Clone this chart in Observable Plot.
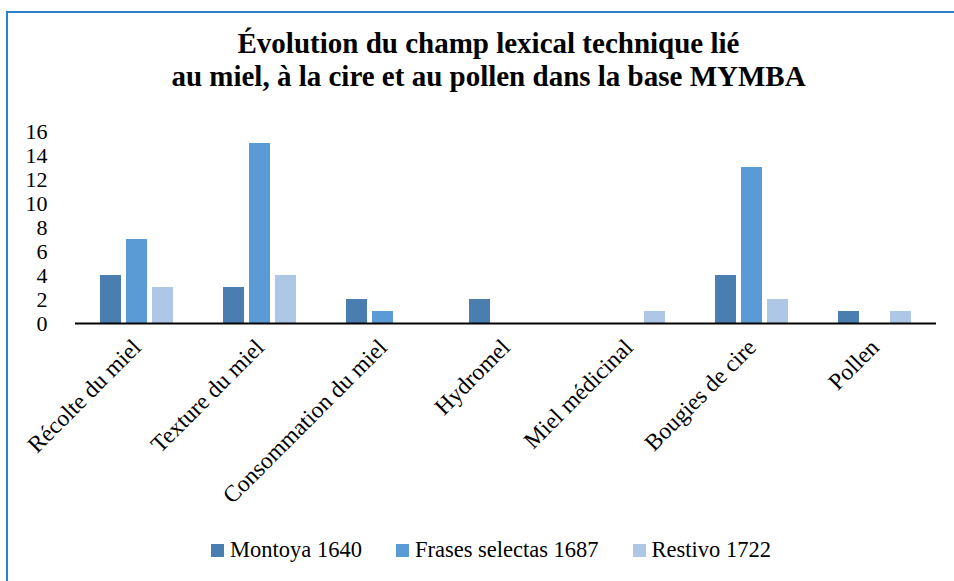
<!DOCTYPE html>
<html><head><meta charset="utf-8">
<script src="https://cdn.jsdelivr.net/npm/d3@7"></script>
<script src="https://cdn.jsdelivr.net/npm/@observablehq/plot@0.6"></script>
<style>
body{margin:0;background:#fff;}
#wrap{position:relative;width:954px;height:581px;overflow:hidden;font-family:"Liberation Serif","DejaVu Serif",serif;color:#000;}
#frame{position:absolute;left:6px;top:11px;width:1000px;height:620px;border:2.5px solid #2e80c8;box-sizing:border-box;}
#title{position:absolute;left:0;width:977px;top:27px;text-align:center;font-family:"Liberation Serif","DejaVu Serif",serif;font-weight:700;font-size:29px;line-height:33px;}
#chart{position:absolute;left:0;top:96px;}
#legend{position:absolute;top:537px;left:0;width:982px;display:flex;justify-content:center;gap:34px;font-size:22.5px;line-height:26px;}
#legend .item{display:flex;align-items:center;}
#legend .sw{width:13px;height:13px;margin-right:6px;}
</style></head>
<body>
<div id="wrap">
  <div id="frame"></div>
  <div id="title">Évolution du champ lexical technique lié<br>au miel, à la cire et au pollen dans la base MYMBA</div>
  <div id="chart"></div>
  <div id="legend"></div>
</div>
<script>
const categories = ["Récolte du miel","Texture du miel","Consommation du miel","Hydromel","Miel médicinal","Bougies de cire","Pollen"];
const series = ["Montoya 1640","Frases selectas 1687","Restivo 1722"];
const montoya = [4,3,2,2,0,4,1];
const frases = [7,15,1,0,0,13,0];
const restivo = [3,4,0,0,1,2,1];
const yTicks = [0,2,4,6,8,10,12,14,16];
const colors = ["#4a7eb0","#5b9bd5","#aec7e7"];

const valuesBySeries = [montoya, frases, restivo];
const data = [];
categories.forEach((c, i) => {
  series.forEach((s, j) => data.push({category: c, series: s, value: valuesBySeries[j][i]}));
});

const chart = Plot.plot({
  width: 954, height: 434,
  marginTop: 35, marginBottom: 207, marginLeft: 72, marginRight: 16,
  style: {fontFamily: "Liberation Serif", fontSize: "22px", color: "#000", background: "transparent", overflow: "visible"},
  fx: {domain: categories, paddingInner: 0, paddingOuter: 0, label: null},
  x: {domain: series, paddingInner: 0.2, paddingOuter: 0.9, axis: null},
  y: {domain: [0, 16], label: null},
  color: {domain: series, range: colors},
  marks: [
    Plot.axisY({ticks: yTicks, tickSize: 0, tickPadding: 25, dx: -3, label: null}),
    Plot.axisFx({anchor: "bottom", tickRotate: -45, tickSize: 0, tickPadding: 20, fontSize: 23.5, label: null}),
    Plot.barY(data, {fx: "category", x: "series", y: "value", fill: "series"}),
    Plot.ruleY([0], {stroke: "#000", strokeWidth: 2})
  ]
});
document.getElementById("chart").appendChild(chart);

const legend = document.getElementById("legend");
series.forEach((s, j) => {
  const item = document.createElement("div");
  item.className = "item";
  const sw = document.createElement("span");
  sw.className = "sw";
  sw.style.background = colors[j];
  const t = document.createElement("span");
  t.textContent = s;
  item.appendChild(sw); item.appendChild(t);
  legend.appendChild(item);
});
</script>
</body></html>
